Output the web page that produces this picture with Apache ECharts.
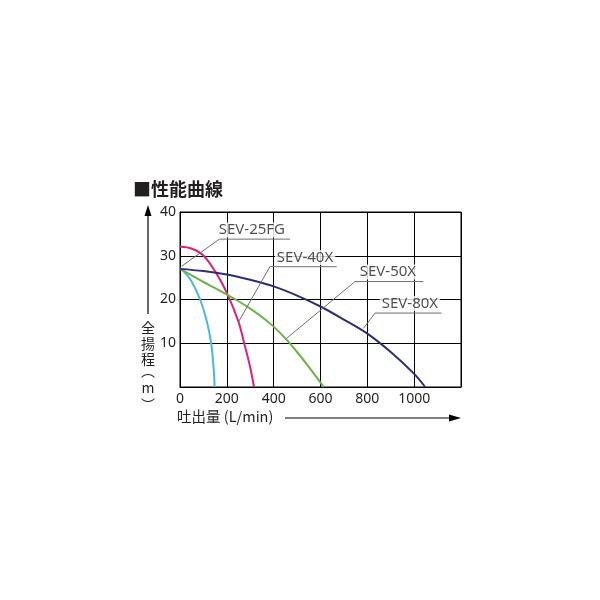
<!DOCTYPE html>
<html>
<head>
<meta charset="utf-8">
<title>性能曲線</title>
<script src="https://cdn.jsdelivr.net/npm/echarts@6/dist/echarts.min.js"></script>
<style>
html, body { margin: 0; padding: 0; background: #fff; }
#main { width: 600px; height: 600px; }
</style>
</head>
<body>
<div id="main"></div>
<script type="text/javascript">
// 吐出量 (L/min) / 全揚程 (m)
var xTicks = [0, 200, 400, 600, 800, 1000];
var yTicks = [10, 20, 30, 40];

var sev25fg = [[0, 27.2], [25, 25.9], [51, 24.0], [86, 20.0], [115, 14.9], [133, 10.0], [143, 4.7], [148, 0]];
var sev40x = [[0, 32.1], [51, 31.6], [101, 30.0], [157, 25.8], [201, 21.4], [250, 14.9], [274, 10.0], [299, 4.7], [316, 0]];
var sev50x = [[0, 27.0], [50, 25.5], [100, 24.0], [150, 22.6], [200, 21.1], [250, 19.6], [300, 17.9], [350, 16.0],
              [400, 13.8], [450, 11.1], [500, 8.0], [550, 4.6], [600, 1.0], [614, 0]];
var sev80x = [[0, 27.0], [100, 26.5], [200, 25.7], [300, 24.5], [400, 23.0], [500, 20.9], [600, 18.4],
              [700, 15.4], [800, 12.2], [900, 8.0], [1000, 3.0], [1047, 0]];

// leader lines: [curve point, line start, line end]
var lead25 = [[7, 27.6], [168, 33.8], [470, 33.8]];
var lead40 = [[249, 14.8], [384, 27.5], [669, 27.5]];
var lead50 = [[455, 11.1], [747, 24.1], [1039, 24.1]];
var lead80 = [[783, 13.4], [833, 16.9], [1117, 16.9]];

var labelNames = ['SEV-25FG', 'SEV-40X', 'SEV-50X', 'SEV-80X'];
var labelPos = [[307, 35.9], [534, 29.6], [888, 26.3], [982, 19.1]];

var txt = '#231f20';
var font = '"Noto Sans", "Noto Sans CJK JP", sans-serif';

var myChart = echarts.init(document.getElementById('main'));

function curve(name, data, color) {
    return {
        name: name,
        type: 'line',
        data: data,
        smooth: 0.35,
        showSymbol: false,
        lineStyle: { color: color, width: 2 },
        z: 3
    };
}

function leader(data) {
    return {
        type: 'line',
        data: data,
        showSymbol: false,
        silent: true,
        lineStyle: { color: '#6d6e71', width: 1 },
        z: 4
    };
}

// vertical axis name, one glyph per row
var yName = [['全', 328], ['揚', 343.5], ['程', 358.5], ['︵', 371], ['m', 388], ['︶', 405]];

option = {
    animation: false,
    title: {
        text: '■性能曲線',
        left: 128,
        top: 175,
        textStyle: { fontSize: 18, fontWeight: 'bold', color: txt, fontFamily: '"Noto Sans CJK JP", sans-serif' }
    },
    grid: {
        left: 180, top: 212, width: 281, height: 175,
        show: true, borderColor: '#000', borderWidth: 1
    },
    xAxis: {
        type: 'value',
        min: 0, max: 1200, interval: 200,
        axisLine: { show: true, lineStyle: { color: '#000', width: 1 } },
        axisTick: { show: false },
        splitLine: { show: true, lineStyle: { color: '#000', width: 1 } },
        axisLabel: {
            color: txt, fontSize: 14, fontFamily: font, margin: 5,
            formatter: function (v) { return xTicks.indexOf(v) >= 0 ? String(v) : ''; }
        }
    },
    yAxis: {
        type: 'value',
        min: 0, max: 40, interval: 10,
        axisLine: { show: true, lineStyle: { color: '#000', width: 1 } },
        axisTick: { show: false },
        splitLine: { show: true, lineStyle: { color: '#000', width: 1 } },
        axisLabel: {
            color: txt, fontSize: 14, fontFamily: font, margin: 4,
            formatter: function (v) { return yTicks.indexOf(v) >= 0 ? String(v) : ''; }
        }
    },
    series: [
        curve('SEV-25FG', sev25fg, '#4ab9e0'),
        curve('SEV-40X', sev40x, '#d9237c'),
        curve('SEV-50X', sev50x, '#6ab545'),
        curve('SEV-80X', sev80x, '#2b2d78'),
        leader(lead25),
        leader(lead40),
        leader(lead50),
        leader(lead80),
        {
            type: 'scatter',
            symbolSize: 0,
            silent: true,
            z: 5,
            data: labelPos.map(function (p, i) { return { name: labelNames[i], value: p }; }),
            label: {
                show: true,
                position: 'inside',
                formatter: '{b}',
                color: txt,
                fontSize: 15,
                fontFamily: font,
                backgroundColor: '#fff',
                padding: [0, 2]
            }
        }
    ],
    graphic: [
        // y arrow
        { type: 'line', shape: { x1: 148, y1: 214, x2: 148, y2: 314 }, style: { stroke: '#000', lineWidth: 1.2 } },
        { type: 'polygon', shape: { points: [[148, 205], [144.5, 216], [151.5, 216]] }, style: { fill: '#000' } },
        // x title and arrow
        {
            type: 'text', left: 177, top: 409,
            style: { text: '吐出量 (L/min)', font: '14.5px "Noto Sans CJK JP"', fill: txt }
        },
        { type: 'line', shape: { x1: 285, y1: 418, x2: 452, y2: 418 }, style: { stroke: '#000', lineWidth: 1.2 } },
        { type: 'polygon', shape: { points: [[461, 418], [449, 414.5], [449, 421.5]] }, style: { fill: '#000' } }
    ].concat(yName.map(function (c) {
        return {
            type: 'text', x: 148, y: c[1],
            style: {
                text: c[0], font: '14px "Noto Sans CJK JP"', fill: txt,
                align: 'center', verticalAlign: 'middle'
            }
        };
    }))
};

myChart.setOption(option);
</script>
</body>
</html>
